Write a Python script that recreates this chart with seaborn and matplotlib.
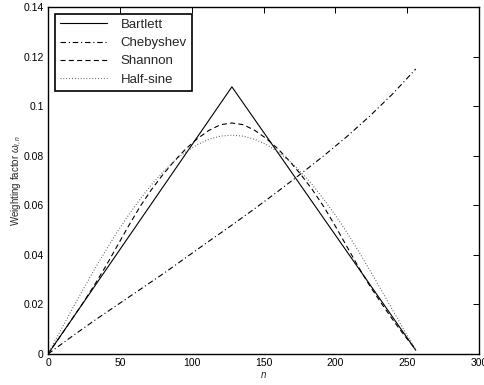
import numpy as np
import pandas as pd
import seaborn as sns
import matplotlib
matplotlib.use("Agg")
import matplotlib.pyplot as plt

# sample index n and weights
n8 = [0, 8, 16, 24, 32, 40, 48, 56, 64, 72, 80, 88, 96, 104, 112, 120, 128,
      136, 144, 152, 160, 168, 176, 184, 192, 200, 208, 216, 224, 232, 240, 248, 256]
n16 = [0, 16, 32, 48, 64, 80, 96, 112, 128, 144, 160, 176, 192, 208, 224, 240, 256]

bartlett_n = [0, 128, 256]
bartlett = [0.0, 0.1078, 0.0015]

chebyshev = [0.0, 0.0068, 0.0134, 0.0197, 0.0260, 0.0323, 0.0389, 0.0455, 0.0520,
             0.0587, 0.0656, 0.0727, 0.0800, 0.0877, 0.0960, 0.1050, 0.1150]

shannon = [0.0, 0.0067, 0.0135, 0.0203, 0.0275, 0.0352, 0.0434, 0.0516, 0.0594,
           0.0663, 0.0724, 0.0779, 0.0828, 0.0869, 0.0902, 0.0925, 0.0932,
           0.0925, 0.0902, 0.0869, 0.0828, 0.0779, 0.0724, 0.0663, 0.0594,
           0.0516, 0.0434, 0.0352, 0.0275, 0.0205, 0.0138, 0.0075, 0.0018]

half_sine = [0.0, 0.0087, 0.0172, 0.0256, 0.0338, 0.0416, 0.0491, 0.0560, 0.0624,
             0.0683, 0.0734, 0.0779, 0.0816, 0.0845, 0.0866, 0.0879, 0.0883,
             0.0879, 0.0866, 0.0845, 0.0816, 0.0779, 0.0734, 0.0683, 0.0624,
             0.0560, 0.0491, 0.0416, 0.0338, 0.0258, 0.0176, 0.0095, 0.0018]

xticks = [0, 50, 100, 150, 200, 250, 300]
yticks = [0, 0.02, 0.04, 0.06, 0.08, 0.1, 0.12, 0.14]
ytick_labels = ["0", "0.02", "0.04", "0.06", "0.08", "0.1", "0.12", "0.14"]

sns.set_style("white")
plt.rcParams['font.family'] = ['Liberation Sans', 'DejaVu Sans']
plt.rcParams['mathtext.fontset'] = 'custom'
plt.rcParams['mathtext.rm'] = 'Liberation Sans'
plt.rcParams['mathtext.it'] = 'Liberation Sans:italic'

fig = plt.figure(figsize=(4.84, 3.85), dpi=100)
ax = fig.add_axes([48 / 484, 31 / 385, 431 / 484, 347 / 385])

lw = 0.8
sns.lineplot(x=bartlett_n, y=bartlett, ax=ax, color="black", lw=lw,
             label="Bartlett")
sns.lineplot(x=n16, y=chebyshev, ax=ax, color="black", lw=lw,
             label="Chebyshev")
sns.lineplot(x=n8, y=shannon, ax=ax, color="black", lw=lw, label="Shannon")
sns.lineplot(x=n8, y=half_sine, ax=ax, color="#555555", lw=lw, label="Half-sine")

dash_styles = [None, [5, 2.5, 1, 2.5], [4.5, 3], [0.8, 1.8]]
for line, d in zip(ax.get_lines(), dash_styles):
    if d:
        line.set_dashes(d)

ax.set_xlim(0, 300)
ax.set_ylim(0, 0.14)
ax.set_xticks(xticks)
ax.set_yticks(yticks)
ax.set_yticklabels(ytick_labels)
ax.tick_params(direction="in", length=4, width=0.7, labelsize=7.5,
               top=True, right=True, colors="black", pad=3)
for sp in ax.spines.values():
    sp.set_visible(True)
    sp.set_color("black")
    sp.set_linewidth(1.0)

ax.set_xlabel("$n$", fontsize=7, labelpad=1)
ax.set_ylabel(r"Weighting factor $\omega_{l,n}$", fontsize=7)
ax.yaxis.set_label_coords(-0.055, 0.5)

leg = ax.legend(loc="upper left", fontsize=9.5, frameon=True, fancybox=False,
                handlelength=3.6, handletextpad=1.0, labelspacing=0.45,
                borderpad=0.4, borderaxespad=0.5)
leg.get_frame().set_edgecolor("black")
leg.get_frame().set_linewidth(1.2)
leg.get_frame().set_alpha(1)
for line, d in zip(leg.get_lines(), dash_styles):
    if d:
        line.set_dashes(d)

fig.savefig("out.png", dpi=100)
